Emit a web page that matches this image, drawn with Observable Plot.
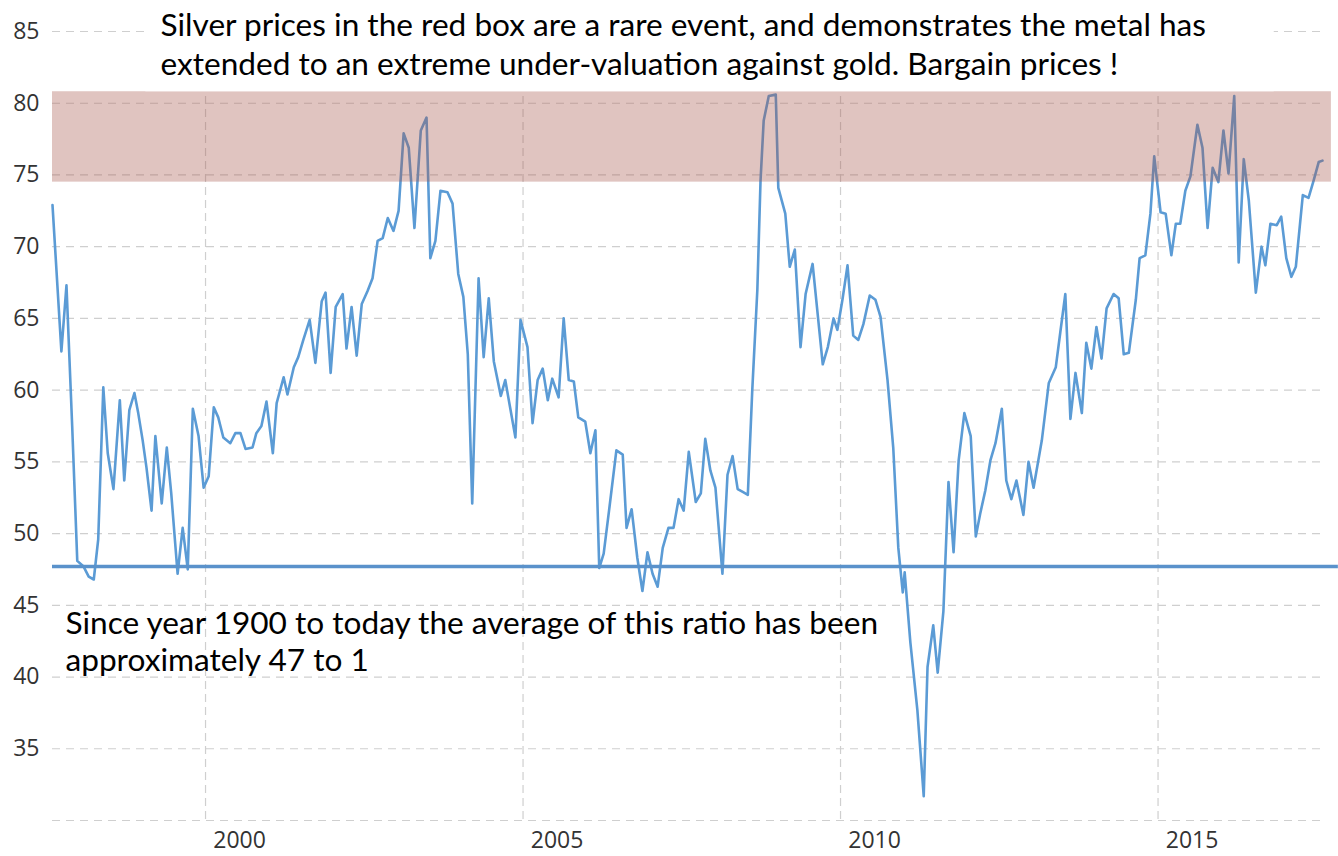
<!DOCTYPE html>
<html>
<head>
<meta charset="utf-8">
<script src="https://cdn.jsdelivr.net/npm/d3@7"></script>
<script src="https://cdn.jsdelivr.net/npm/@observablehq/plot@0.6"></script>
<style>
  html, body { margin: 0; padding: 0; background: #fff; }
  #chart svg { display: block; }
</style>
</head>
<body>
<div id="chart"></div>
<script>
// ---- Data: gold / silver ratio, monthly ----
const years = [
  1997.59,1997.73,1997.81,1997.90,1997.98,1998.08,1998.16,1998.24,1998.31,1998.39,
  1998.46,1998.55,1998.65,1998.72,1998.80,1998.88,1998.94,1999.01,1999.07,1999.15,
  1999.21,1999.31,1999.39,1999.46,1999.56,1999.64,1999.72,1999.80,1999.89,1999.97,
  2000.05,2000.13,2000.20,2000.28,2000.39,2000.47,2000.55,2000.63,2000.74,2000.80,
  2000.88,2000.96,2001.06,2001.12,2001.23,2001.29,2001.39,2001.46,2001.54,2001.64,
  2001.73,2001.83,2001.89,2001.97,2002.05,2002.16,2002.22,2002.30,2002.38,2002.46,
  2002.55,2002.63,2002.71,2002.79,2002.87,2002.96,2003.04,2003.12,2003.20,2003.29,
  2003.39,2003.48,2003.54,2003.62,2003.70,2003.81,2003.89,2003.98,2004.06,2004.13,
  2004.20,2004.30,2004.38,2004.46,2004.54,2004.65,2004.72,2004.80,2004.88,2004.96,
  2005.07,2005.15,2005.23,2005.31,2005.39,2005.46,2005.56,2005.64,2005.72,2005.80,
  2005.87,2005.98,2006.06,2006.14,2006.20,2006.27,2006.36,2006.47,2006.57,2006.63,
  2006.71,2006.80,2006.88,2006.96,2007.04,2007.12,2007.20,2007.29,2007.37,2007.45,
  2007.53,2007.61,2007.72,2007.80,2007.87,2007.95,2008.03,2008.14,2008.22,2008.30,
  2008.38,2008.46,2008.54,2008.61,2008.69,2008.74,2008.79,2008.87,2008.98,2009.02,
  2009.13,2009.20,2009.28,2009.37,2009.45,2009.56,2009.72,2009.80,2009.89,2009.95,
  2010.03,2010.11,2010.20,2010.28,2010.36,2010.46,2010.55,2010.63,2010.74,2010.83,
  2010.91,2010.98,2011.01,2011.10,2011.21,2011.31,2011.37,2011.46,2011.53,2011.62,
  2011.70,2011.78,2011.86,2011.95,2012.05,2012.13,2012.20,2012.28,2012.36,2012.44,
  2012.54,2012.61,2012.69,2012.77,2012.88,2012.96,2013.04,2013.17,2013.28,2013.39,
  2013.46,2013.54,2013.62,2013.70,2013.80,2013.87,2013.95,2014.03,2014.11,2014.19,
  2014.30,2014.38,2014.46,2014.54,2014.65,2014.71,2014.80,2014.88,2014.94,2015.04,
  2015.12,2015.21,2015.28,2015.35,2015.43,2015.51,2015.62,2015.70,2015.78,2015.86,
  2015.95,2016.03,2016.11,2016.20,2016.27,2016.35,2016.43,2016.54,2016.63,2016.69,
  2016.77,2016.87,2016.94,2017.02,2017.10,2017.17,2017.28,2017.37,2017.45,2017.53,
  2017.59
];
const ratio = [
  72.9,62.7,67.3,57.5,48.1,47.7,47.0,46.8,49.6,60.2,
  55.6,53.1,59.3,53.7,58.6,59.8,58.4,56.5,54.6,51.6,
  56.8,52.1,56.0,52.8,47.2,50.4,47.5,58.7,56.8,53.2,
  54.0,58.8,58.1,56.7,56.3,57.0,57.0,55.9,56.0,57.0,
  57.5,59.2,55.6,59.1,60.9,59.7,61.6,62.3,63.5,64.9,
  61.9,66.2,66.8,61.2,65.8,66.7,62.9,65.8,62.4,66.0,
  66.9,67.8,70.4,70.6,72.0,71.1,72.5,77.9,76.9,71.3,
  78.1,79.0,69.2,70.4,73.9,73.8,73.0,68.1,66.5,62.5,
  52.1,67.8,62.3,66.4,62.0,59.6,60.7,58.7,56.7,64.9,
  63.0,57.7,60.7,61.5,59.3,60.8,59.5,65.0,60.7,60.6,
  58.1,57.8,55.6,57.2,47.6,48.6,51.8,55.8,55.5,50.4,
  51.7,48.3,46.0,48.7,47.2,46.3,49.0,50.4,50.4,52.4,
  51.6,55.7,52.2,52.8,56.6,54.4,53.2,47.2,54.1,55.4,
  53.1,52.9,52.7,60.0,67.0,74.6,78.8,80.5,80.6,74.1,
  72.3,68.6,69.8,63.0,66.7,68.8,61.8,63.0,65.0,64.2,
  66.3,68.7,63.8,63.5,64.6,66.6,66.3,65.1,60.7,56.0,
  49.0,45.9,47.3,42.4,37.7,31.7,40.7,43.6,40.3,44.6,
  53.6,48.7,55.1,58.4,56.8,49.8,51.4,53.0,55.1,56.3,
  58.7,53.7,52.4,53.7,51.3,55.0,53.2,56.5,60.5,61.6,
  64.0,66.7,58.0,61.2,58.4,63.3,61.5,64.4,62.2,65.7,
  66.7,66.4,62.5,62.6,66.3,69.2,69.4,72.3,76.3,72.4,
  72.3,69.4,71.6,71.6,73.9,74.9,78.5,76.9,71.3,75.5,
  74.5,78.1,75.1,80.5,68.9,76.1,73.2,66.8,70.0,68.7,
  71.6,71.5,72.1,69.2,67.9,68.6,73.6,73.4,74.6,75.9,
  76.0
];
const xTicks = [2000, 2005, 2010, 2015];
const yTicks = [35, 40, 45, 50, 55, 60, 65, 70, 75, 80, 85];
const yGrid = [30, 35, 40, 45, 50, 55, 60, 65, 70, 75, 80, 85];
const averageRatio = [47.7];
const redZone = [{low: 74.5, high: 80.8}];
const topNote = [
  "Silver prices in the red box are a rare event, and demonstrates the metal has",
  "extended to an extreme under-valuation against gold. Bargain prices !"
];
const bottomNote = [
  "Since year 1900 to today the average of this ratio has been",
  "approximately 47 to 1"
];

// ---- Chart ----
const data = years.map((t, i) => ({year: t, ratio: ratio[i]}));
const xDomain = [1997.59, 2017.59];
const yDomain = [30, 85];
const noteMask = [{x1: 1999.06, x2: 2016.83, y1: 80.8, y2: 88}];

const gridStyle = {stroke: "#cfcfcf", strokeWidth: 1.2, strokeDasharray: "8,6"};
const noteFont = {frameAnchor: "top-left", lineAnchor: "bottom", textAnchor: "start", fontSize: 31.6, fontFamily: "Lato, sans-serif", fill: "#000"};

const chart = Plot.plot({
  width: 1338,
  height: 856,
  marginLeft: 52,
  marginRight: 16,
  marginTop: 31,
  marginBottom: 36,
  style: {fontFamily: "'Open Sans', sans-serif", fontSize: "23px", background: "#fff", overflow: "visible"},
  x: {domain: xDomain, type: "linear"},
  y: {domain: yDomain},
  marks: [
    Plot.ruleY(yGrid, gridStyle),
    Plot.ruleX(xTicks, {...gridStyle, strokeDasharray: "8,5"}),
    Plot.line(data, {x: "year", y: "ratio", stroke: "#5b9bd5", strokeWidth: 2.6, strokeLinejoin: "round"}),
    Plot.ruleY(averageRatio, {x1: () => xDomain[0], x2: () => 2017.84, stroke: "#5a92cb", strokeWidth: 3.5}),
    Plot.rect(redZone, {x1: () => xDomain[0], x2: () => 2017.73, y1: "low", y2: "high", fill: "rgb(166,86,75)", fillOpacity: 0.35}),
    Plot.rect(noteMask, {x1: "x1", x2: "x2", y1: "y1", y2: "y2", fill: "#fff"}),
    Plot.axisY(yTicks, {tickSize: 0, tickPadding: 13, fontSize: 23, fill: "#333", label: null}),
    Plot.axisX(xTicks, {tickSize: 0, tickPadding: 11, dx: 34, fontSize: 23, fill: "#333", label: null, tickFormat: d => String(d)}),
    Plot.text([topNote[0]], {...noteFont, dx: 108, dy: 4}),
    Plot.text([topNote[1]], {...noteFont, dx: 108, dy: 43}),
    Plot.text([bottomNote[0]], {...noteFont, dx: 13, dy: 602}),
    Plot.text([bottomNote[1]], {...noteFont, dx: 13, dy: 639})
  ]
});
document.getElementById("chart").appendChild(chart);
</script>
</body>
</html>
